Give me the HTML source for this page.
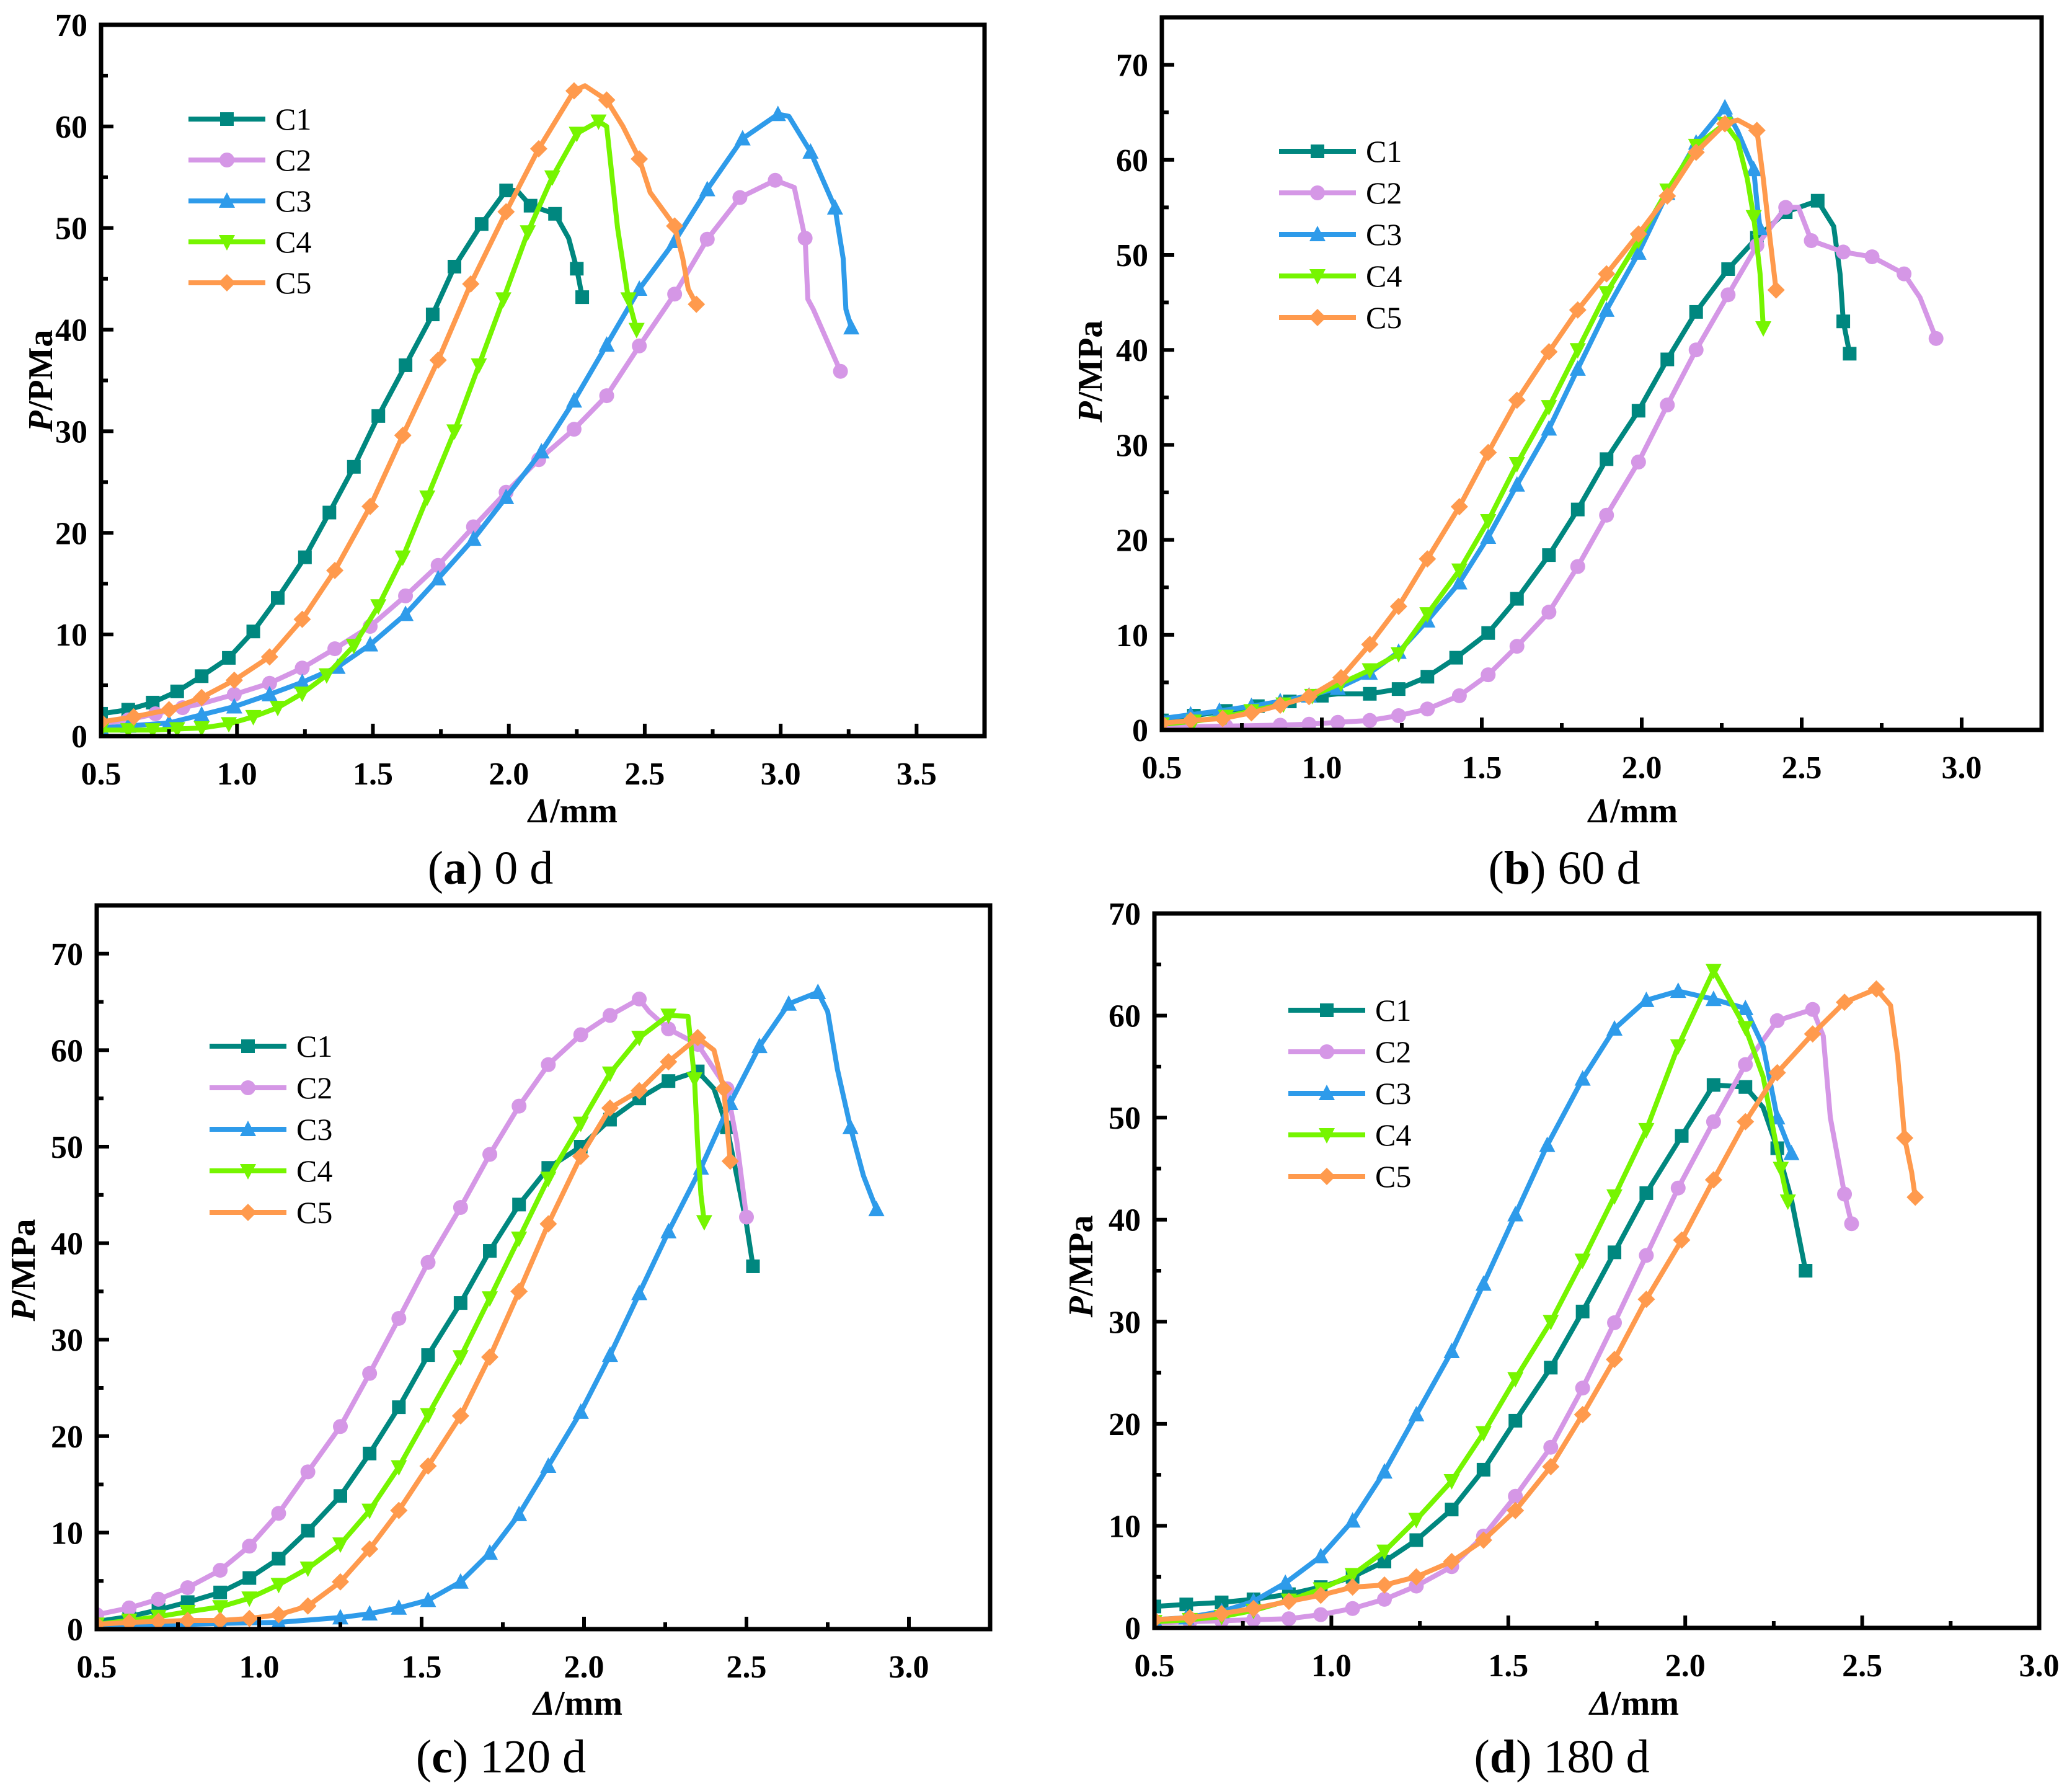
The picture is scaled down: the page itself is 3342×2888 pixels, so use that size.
<!DOCTYPE html>
<html><head><meta charset="utf-8"><style>
html,body{margin:0;padding:0;background:#fff;}
svg{display:block;font-family:"Liberation Serif","Times New Roman",serif;}
svg text{font-family:"Liberation Serif","Times New Roman",serif;}
</style></head><body>
<svg id="fig" width="3342" height="2888" viewBox="0 0 3342 2888" xmlns="http://www.w3.org/2000/svg"></svg>
<script>
const seriesNames = ["C1","C2","C3","C4","C5"];
const colors = ["#00877F","#D597E6","#2E9BEA","#76F500","#FF9A4D"];

// Panel (a) 0 d
const a_C1 = [[0.5,2.2],[0.6,2.6],[0.69,3.3],[0.78,4.4],[0.87,5.9],[0.97,7.7],[1.06,10.3],[1.15,13.6],[1.25,17.6],[1.34,22],[1.43,26.5],[1.52,31.5],[1.62,36.5],[1.72,41.5],[1.8,46.2],[1.9,50.4],[1.99,53.7],[2.03,53.7],[2.08,52.2],[2.17,51.4],[2.22,49],[2.25,46],[2.27,43.2]];
const a_C2 = [[0.5,1.2],[0.6,1.6],[0.7,2.2],[0.8,2.8],[0.87,3.2],[0.99,4.1],[1.12,5.2],[1.24,6.7],[1.36,8.6],[1.49,10.8],[1.62,13.8],[1.74,16.8],[1.87,20.6],[1.99,24],[2.11,27.2],[2.24,30.2],[2.36,33.5],[2.48,38.4],[2.61,43.5],[2.73,48.9],[2.85,53],[2.98,54.7],[3.05,54],[3.09,49],[3.1,43],[3.12,42],[3.22,35.9]];
const a_C3 = [[0.5,0.8],[0.6,1],[0.75,1.3],[0.87,2.1],[0.99,2.9],[1.12,4.1],[1.24,5.3],[1.37,6.8],[1.49,9],[1.62,12],[1.74,15.5],[1.87,19.4],[1.99,23.5],[2.12,28],[2.24,33],[2.36,38.5],[2.48,44],[2.61,48.7],[2.73,53.8],[2.86,58.8],[2.99,61.2],[3.03,61],[3.11,57.5],[3.2,52],[3.23,47],[3.24,42],[3.26,40.2]];
const a_C4 = [[0.5,0.6],[0.6,0.6],[0.69,0.6],[0.78,0.7],[0.87,0.8],[0.97,1.2],[1.06,1.9],[1.15,2.8],[1.24,4.2],[1.33,6],[1.43,8.9],[1.52,12.8],[1.61,17.6],[1.7,23.5],[1.8,30],[1.89,36.5],[1.98,43],[2.07,49.6],[2.16,55],[2.25,59.3],[2.33,60.5],[2.36,60],[2.4,50],[2.44,43],[2.47,40]];
const a_C5 = [[0.5,1.4],[0.62,1.9],[0.75,2.6],[0.87,3.8],[0.99,5.5],[1.12,7.8],[1.24,11.5],[1.36,16.3],[1.49,22.6],[1.61,29.6],[1.74,37],[1.86,44.5],[1.99,51.6],[2.11,57.8],[2.24,63.5],[2.28,64],[2.36,62.6],[2.42,60],[2.48,56.8],[2.52,53.5],[2.61,50.2],[2.64,47],[2.66,44],[2.69,42.5]];

// Panel (b) 60 d
const b_C1 = [[0.5,1],[0.6,1.5],[0.7,2],[0.8,2.5],[0.9,3],[1.0,3.6],[1.05,3.8],[1.15,3.8],[1.24,4.3],[1.33,5.6],[1.42,7.6],[1.52,10.2],[1.61,13.8],[1.71,18.4],[1.8,23.2],[1.89,28.5],[1.99,33.6],[2.08,39],[2.17,44],[2.27,48.5],[2.36,51.8],[2.45,54.5],[2.55,55.7],[2.6,53],[2.62,48],[2.63,43],[2.65,39.6]];
const b_C2 = [[0.5,0.3],[0.7,0.4],[0.87,0.5],[0.96,0.6],[1.05,0.8],[1.15,1],[1.24,1.5],[1.33,2.2],[1.43,3.6],[1.52,5.8],[1.61,8.8],[1.71,12.4],[1.8,17.2],[1.89,22.6],[1.99,28.2],[2.08,34.2],[2.17,40],[2.27,45.8],[2.36,51],[2.45,55],[2.49,55],[2.53,51.5],[2.63,50.3],[2.72,49.8],[2.82,48],[2.87,45.5],[2.92,41.2]];
const b_C3 = [[0.5,1.2],[0.59,1.6],[0.68,2],[0.78,2.5],[0.87,3],[0.96,3.6],[1.05,4.4],[1.15,6],[1.24,8.2],[1.33,11.5],[1.43,15.5],[1.52,20.3],[1.61,25.8],[1.71,31.7],[1.8,38],[1.89,44.2],[1.99,50.2],[2.08,56.5],[2.17,61.8],[2.26,65.5],[2.3,63],[2.35,59],[2.36,55.5],[2.37,52.8]];
const b_C4 = [[0.5,0.6],[0.6,0.9],[0.7,1.4],[0.78,2],[0.88,2.7],[0.97,3.6],[1.06,4.9],[1.15,6.3],[1.24,8],[1.33,12.2],[1.43,16.8],[1.52,22],[1.61,28],[1.71,34],[1.8,40],[1.89,46],[1.99,51.5],[2.08,56.8],[2.17,61.5],[2.26,63.8],[2.3,62],[2.33,58],[2.35,54],[2.37,48],[2.38,42.3]];
const b_C5 = [[0.5,0.7],[0.59,1],[0.69,1.2],[0.78,1.8],[0.87,2.6],[0.96,3.5],[1.06,5.5],[1.15,9],[1.24,13],[1.33,18],[1.43,23.5],[1.52,29.2],[1.61,34.7],[1.71,39.8],[1.8,44.2],[1.89,48],[1.99,52.2],[2.08,56.2],[2.17,60.8],[2.26,63.8],[2.3,64.2],[2.36,63.1],[2.38,58],[2.4,52],[2.42,46.3]];

// Panel (c) 120 d
const c_C1 = [[0.5,0.8],[0.6,1.3],[0.69,2],[0.78,2.8],[0.88,3.8],[0.97,5.3],[1.06,7.3],[1.15,10.2],[1.25,13.8],[1.34,18.2],[1.43,23],[1.52,28.4],[1.62,33.8],[1.71,39.2],[1.8,44],[1.89,47.8],[1.99,50],[2.08,52.8],[2.17,55],[2.26,56.8],[2.35,57.8],[2.4,56],[2.44,52],[2.47,47],[2.5,42],[2.52,37.6]];
const c_C2 = [[0.5,1.5],[0.6,2.2],[0.69,3.1],[0.78,4.3],[0.88,6.1],[0.97,8.6],[1.06,12],[1.15,16.3],[1.25,21],[1.34,26.5],[1.43,32.2],[1.52,38],[1.62,43.7],[1.71,49.2],[1.8,54.2],[1.89,58.5],[1.99,61.6],[2.08,63.6],[2.17,65.3],[2.2,64],[2.26,62.2],[2.35,60.6],[2.44,56],[2.47,50.6],[2.5,42.7]];
const c_C3 = [[0.5,0.3],[0.7,0.4],[0.88,0.6],[1.06,0.7],[1.25,1.2],[1.34,1.6],[1.43,2.2],[1.52,3],[1.62,4.9],[1.71,7.9],[1.8,11.9],[1.89,16.9],[1.99,22.5],[2.08,28.4],[2.17,34.8],[2.26,41.2],[2.36,47.8],[2.45,54.5],[2.54,60.4],[2.63,64.8],[2.72,66],[2.75,64],[2.78,58],[2.82,52],[2.86,47],[2.9,43.5]];
const c_C4 = [[0.5,0.5],[0.6,0.9],[0.69,1.3],[0.78,1.8],[0.88,2.3],[0.97,3.2],[1.06,4.6],[1.15,6.3],[1.25,8.8],[1.34,12.3],[1.43,16.8],[1.52,22.2],[1.62,28.2],[1.71,34.3],[1.8,40.5],[1.89,46.7],[1.99,52.4],[2.08,57.6],[2.17,61.3],[2.26,63.6],[2.32,63.5],[2.34,57],[2.35,50],[2.36,45],[2.37,42.2]];
const c_C5 = [[0.5,0.5],[0.6,0.7],[0.69,0.8],[0.78,0.9],[0.88,0.9],[0.97,1.1],[1.06,1.5],[1.15,2.4],[1.25,4.9],[1.34,8.3],[1.43,12.3],[1.52,16.9],[1.62,22.1],[1.71,28.2],[1.8,35],[1.89,42],[1.99,49],[2.08,54],[2.17,55.8],[2.26,58.8],[2.35,61.3],[2.4,60],[2.43,56],[2.45,48.5]];

// Panel (d) 180 d
const d_C1 = [[0.5,2.1],[0.59,2.3],[0.69,2.5],[0.78,2.8],[0.88,3.3],[0.97,4],[1.06,5],[1.15,6.5],[1.24,8.6],[1.34,11.6],[1.43,15.5],[1.52,20.3],[1.62,25.5],[1.71,31],[1.8,36.8],[1.89,42.6],[1.99,48.2],[2.08,53.2],[2.17,53],[2.22,51],[2.26,47],[2.3,42],[2.34,35]];
const d_C2 = [[0.5,0.5],[0.6,0.6],[0.69,0.7],[0.78,0.8],[0.88,0.9],[0.97,1.3],[1.06,1.9],[1.15,2.8],[1.24,4.1],[1.34,6],[1.43,9],[1.52,12.9],[1.62,17.7],[1.71,23.5],[1.8,29.9],[1.89,36.5],[1.98,43.1],[2.08,49.6],[2.17,55.2],[2.26,59.5],[2.36,60.6],[2.39,58],[2.41,50],[2.45,42.5],[2.47,39.6]];
const d_C3 = [[0.5,0.8],[0.59,1],[0.69,1.6],[0.78,2.6],[0.87,4.4],[0.97,7],[1.06,10.5],[1.15,15.3],[1.24,20.9],[1.34,27.1],[1.43,33.7],[1.52,40.5],[1.61,47.3],[1.71,53.8],[1.8,58.7],[1.89,61.5],[1.98,62.4],[2.08,61.6],[2.17,60.7],[2.22,57],[2.26,50],[2.3,46.5]];
const d_C4 = [[0.5,0.6],[0.6,0.8],[0.69,1.1],[0.78,1.7],[0.88,2.7],[0.97,3.8],[1.06,5.2],[1.15,7.5],[1.24,10.6],[1.34,14.4],[1.43,19.1],[1.52,24.4],[1.62,30],[1.71,36],[1.8,42.3],[1.89,48.8],[1.98,57],[2.08,64.4],[2.17,58.8],[2.22,54],[2.27,45],[2.29,41.8]];
const d_C5 = [[0.5,0.8],[0.6,1],[0.69,1.4],[0.78,1.9],[0.88,2.6],[0.97,3.2],[1.06,4],[1.15,4.2],[1.24,5],[1.34,6.5],[1.43,8.6],[1.52,11.5],[1.62,15.8],[1.71,20.9],[1.8,26.3],[1.89,32.2],[1.99,38],[2.08,43.9],[2.17,49.6],[2.26,54.4],[2.36,58.2],[2.45,61.3],[2.54,62.6],[2.58,61],[2.6,56],[2.62,48],[2.64,44.6],[2.65,42.2]];

const a_xTicks = ["0.5","1.0","1.5","2.0","2.5","3.0","3.5"];
const bcd_xTicks = ["0.5","1.0","1.5","2.0","2.5","3.0"];
const yTicks = ["0","10","20","30","40","50","60","70"];

const panels = [
 {id:"a", series:[a_C1,a_C2,a_C3,a_C4,a_C5], xt:a_xTicks, L:163,R:1588,T:40,B:1187, xmax:3.75, ymax:70, ytitle:"PMa",
  leg:{x:304,y:192,dy:66}, xtc:{x:924,y:1326}, ytc:{x:64,y:614}, cap:{x:791,y:1425,l:"a",t:" 0 d"}},
 {id:"b", series:[b_C1,b_C2,b_C3,b_C4,b_C5], xt:bcd_xTicks, L:1874,R:3293,T:28,B:1177, xmax:3.25, ymax:75, ytitle:"MPa",
  leg:{x:2063,y:244,dy:67}, xtc:{x:2634,y:1326}, ytc:{x:1757,y:599}, cap:{x:2523,y:1425,l:"b",t:" 60 d"}},
 {id:"c", series:[c_C1,c_C2,c_C3,c_C4,c_C5], xt:bcd_xTicks, L:156,R:1597,T:1460,B:2627, xmax:3.25, ymax:75, ytitle:"MPa",
  leg:{x:338,y:1687,dy:67}, xtc:{x:932,y:2765}, ytc:{x:36,y:2048}, cap:{x:808,y:2858,l:"c",t:" 120 d"}},
 {id:"d", series:[d_C1,d_C2,d_C3,d_C4,d_C5], xt:bcd_xTicks, L:1862,R:3289,T:1473,B:2625, xmax:3.0, ymax:70, ytitle:"MPa",
  leg:{x:2078,y:1629,dy:67}, xtc:{x:2636,y:2765}, ytc:{x:1742,y:2042}, cap:{x:2519,y:2858,l:"d",t:" 180 d"}}
];

const NS="http://www.w3.org/2000/svg";
const FONT='"Liberation Serif", "Times New Roman", serif';
const svg=document.getElementById("fig");
function mk(tag,attrs,parent){const e=document.createElementNS(NS,tag);for(const k in attrs)e.setAttribute(k,attrs[k]);if(tag==="text")e.setAttribute("font-family",FONT);(parent||svg).appendChild(e);return e;}

function marker(g,type,cx,cy,col){
  const s=11;let e;
  if(type===0){e=mk("rect",{x:cx-s,y:cy-s,width:2*s,height:2*s,fill:col},g);}
  else if(type===1){e=mk("circle",{cx:cx,cy:cy,r:s+1,fill:col},g);}
  else if(type===2){e=mk("polygon",{points:`${cx},${cy-s-3} ${cx-s-2},${cy+s} ${cx+s+2},${cy+s}`,fill:col},g);}
  else if(type===3){e=mk("polygon",{points:`${cx},${cy+s+3} ${cx-s-2},${cy-s} ${cx+s+2},${cy-s}`,fill:col},g);}
  else {e=mk("polygon",{points:`${cx},${cy-s-3} ${cx+s+3},${cy} ${cx},${cy+s+3} ${cx-s-3},${cy}`,fill:col},g);}
  return e;
}

panels.forEach(p=>{
  const g=mk("g",{});
  
  
  const xs=v=>p.L+(v-0.5)/(p.xmax-0.5)*(p.R-p.L);
  const ys=v=>p.B-v/p.ymax*(p.B-p.T);
  const clipId="clip"+p.id;
  const cp=mk("clipPath",{id:clipId},g);
  mk("rect",{x:p.L,y:p.T,width:p.R-p.L,height:p.B-p.T},cp);
  p.series.forEach((data,si)=>{
    const sg=mk("g",{"clip-path":`url(#${clipId})`},g);
    
    
    const pts=data.map(d=>xs(d[0]).toFixed(1)+","+ys(d[1]).toFixed(1)).join(" ");
    const ln=mk("polyline",{points:pts,fill:"none",stroke:colors[si],"stroke-width":8,"stroke-linejoin":"round","stroke-linecap":"round"},sg);
    
    
    let lastX=-10;
    data.forEach((d,i)=>{
      const isLast=i===data.length-1;
      if(!isLast && d[0]-lastX<0.075) return;
      lastX=d[0];
      const m=marker(sg,si,xs(d[0]),ys(d[1]),colors[si]);
      
      
    });
  });
  const fr=mk("rect",{x:p.L,y:p.T,width:p.R-p.L,height:p.B-p.T,fill:"none",stroke:"#000","stroke-width":7},g);
  
  
  for(let v=0.5; v<=p.xmax+1e-6; v+=0.25){
    const major=Math.abs((v*2)-Math.round(v*2))<1e-6;
    const X=xs(v);
    mk("line",{x1:X,y1:p.B,x2:X,y2:p.B-(major?20:11),stroke:"#000","stroke-width":6},g);
  }
  p.xt.forEach(t=>{
    const tx=mk("text",{x:xs(parseFloat(t)),y:p.B+78,"text-anchor":"middle","font-size":52,"font-weight":"bold"},g);
    tx.textContent=t;
    
    
  });
  for(let v=0; v<=p.ymax; v+=5){
    const major=v%10===0;const Y=ys(v);
    mk("line",{x1:p.L,y1:Y,x2:p.L+(major?20:11),y2:Y,stroke:"#000","stroke-width":6},g);
  }
  yTicks.forEach(t=>{
    const tx=mk("text",{x:p.L-22,y:ys(parseFloat(t))+18,"text-anchor":"end","font-size":52,"font-weight":"bold"},g);
    tx.textContent=t;
    
    
  });
  const xt=mk("text",{x:p.xtc.x,y:p.xtc.y,"text-anchor":"middle","font-size":56,"font-weight":"bold"},g);
  xt.innerHTML='<tspan font-style="italic">Δ</tspan>/mm';
  
  
  const yt=mk("text",{x:0,y:0,"text-anchor":"middle","font-size":56,"font-weight":"bold",transform:`translate(${p.ytc.x+20},${p.ytc.y}) rotate(-90)`},g);
  yt.innerHTML='<tspan font-style="italic">P</tspan>/'+p.ytitle;
  
  
  const cap=mk("text",{x:p.cap.x,y:p.cap.y,"text-anchor":"middle","font-size":76},g);
  cap.innerHTML='(<tspan font-weight="bold">'+p.cap.l+'</tspan>)'+p.cap.t;
  
  
  const lg=mk("g",{},g);
  
  
  seriesNames.forEach((n,i)=>{
    const y=p.leg.y+i*p.leg.dy;
    const eg=mk("g",{},lg);
    
    
    mk("line",{x1:p.leg.x,y1:y,x2:p.leg.x+124,y2:y,stroke:colors[i],"stroke-width":8},eg);
    marker(eg,i,p.leg.x+62,y,colors[i]);
    const t=mk("text",{x:p.leg.x+140,y:y+17,"font-size":50},eg);
    t.textContent=n;
  });
});
</script>
</body></html>
